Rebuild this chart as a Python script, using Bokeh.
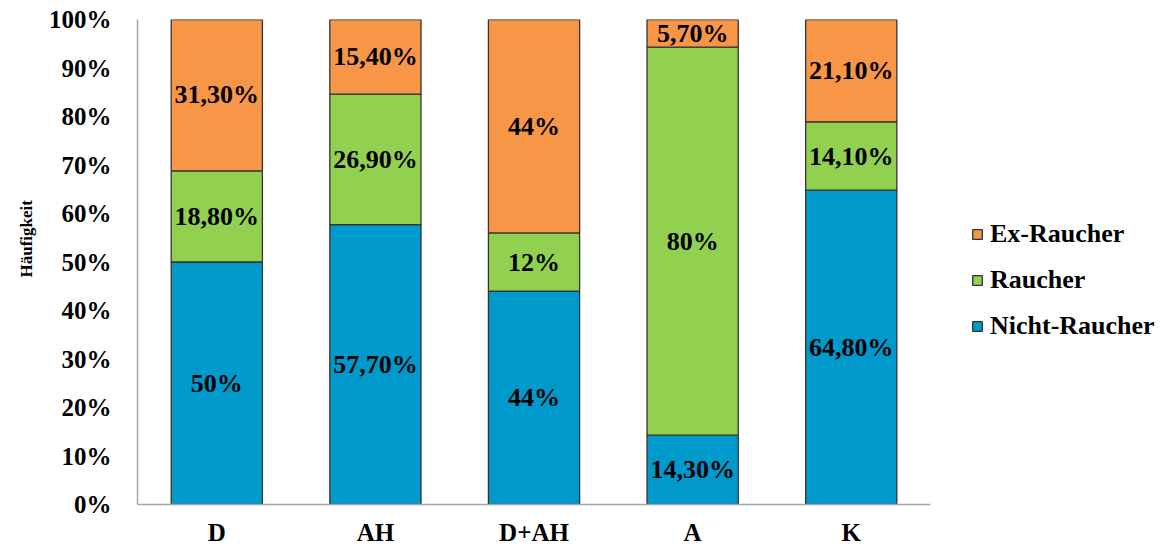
import numpy as np
from bokeh.plotting import figure
from bokeh.models import (ColumnDataSource, Range1d, FixedTicker,
                          PrintfTickFormatter, Legend, LegendItem, Title)
from bokeh.core.properties import value
from bokeh.embed import file_html
from bokeh.resources import INLINE

# Smoking status per patient group, in percent
groups = ["D", "AH", "D+AH", "A", "K"]
nicht_raucher = [50.0, 57.7, 44.0, 14.3, 64.8]
raucher = [18.8, 26.9, 12.0, 80.0, 14.1]
ex_raucher = [31.3, 15.4, 44.0, 5.7, 21.1]

series_names = ["Nicht-Raucher", "Raucher", "Ex-Raucher"]
series_keys = ["nicht", "raucher", "ex"]
series_colors = ["#0099CC", "#92D050", "#F79646"]
y_ticks = [0, 10, 20, 30, 40, 50, 60, 70, 80, 90, 100]

FONT = "Liberation Serif"

# Group slots sit at 0.5, 1.5, ...; the x range continues to the right
# so the legend can live inside the frame next to the bars.
xpos = np.arange(len(groups)) + 0.5
source = ColumnDataSource(dict(x=xpos, nicht=nicht_raucher,
                               raucher=raucher, ex=ex_raucher))

p = figure(x_range=Range1d(0, 6.494), y_range=Range1d(0, 100),
           width=1167, height=551, output_backend="svg", toolbar_location=None,
           min_border_left=137, min_border_right=0,
           min_border_top=19, min_border_bottom=47)

renderers = p.vbar_stack(series_keys, x="x", width=0.575, source=source,
                         fill_color=series_colors, line_color="#333333",
                         line_width=1.3)

# Value labels centred inside each stacked segment
values = [nicht_raucher, raucher, ex_raucher]
bottom = np.zeros(len(groups))
lx, ly, lt = [], [], []
for vals in values:
    v = np.array(vals)
    mid = bottom + v / 2
    for xc, m, val in zip(xpos, mid, v):
        lx.append(xc)
        ly.append(m)
        if float(val).is_integer():
            lt.append(f"{int(val)}%")
        else:
            lt.append(f"{val:.2f}".replace(".", ",") + "%")
    bottom = bottom + v

p.text(x=lx, y=ly, text=lt, text_font=value(FONT), text_font_style="bold",
       text_font_size="26px", text_color="black", text_align="center",
       text_baseline="middle")

# Axes
p.xgrid.grid_line_color = None
p.ygrid.grid_line_color = None
p.outline_line_color = None

for ax in (p.xaxis[0], p.yaxis[0]):
    ax.axis_line_color = "#A6A6A6"
    ax.axis_line_width = 1.5
    ax.major_tick_line_color = None
    ax.minor_tick_line_color = None
    ax.major_tick_out = 0
    ax.major_tick_in = 0
    ax.major_label_text_font = FONT
    ax.major_label_text_font_style = "bold"
    ax.major_label_text_font_size = "25px"
    ax.major_label_text_color = "black"

p.xaxis.ticker = FixedTicker(ticks=list(xpos))
p.xaxis.major_label_overrides = {float(xc): g for xc, g in zip(xpos, groups)}
p.xaxis.bounds = (0, len(groups))
p.xaxis.major_label_standoff = 14

p.yaxis.ticker = FixedTicker(ticks=y_ticks)
p.yaxis.formatter = PrintfTickFormatter(format="%d%%")
p.yaxis.major_label_standoff = 26

# Vertical axis title
p.add_layout(Title(text="Häufigkeit", align="left", offset=227,
                   vertical_align="middle", text_font=FONT,
                   text_font_style="bold", text_font_size="17px",
                   text_color="black", standoff=17), "left")

# Legend, top entry is the top segment
items = [LegendItem(label=n, renderers=[r])
         for n, r in zip(reversed(series_names), reversed(renderers))]
legend = Legend(items=items, location=(834, 163), padding=0, margin=0,
                spacing=16, glyph_width=12, glyph_height=12, label_height=26,
                label_standoff=7, border_line_alpha=0, background_fill_alpha=0,
                label_text_font=FONT, label_text_font_style="bold",
                label_text_font_size="26px", label_text_color="black")
p.add_layout(legend, "center")

open("out.html", "w").write(file_html(p, INLINE))
